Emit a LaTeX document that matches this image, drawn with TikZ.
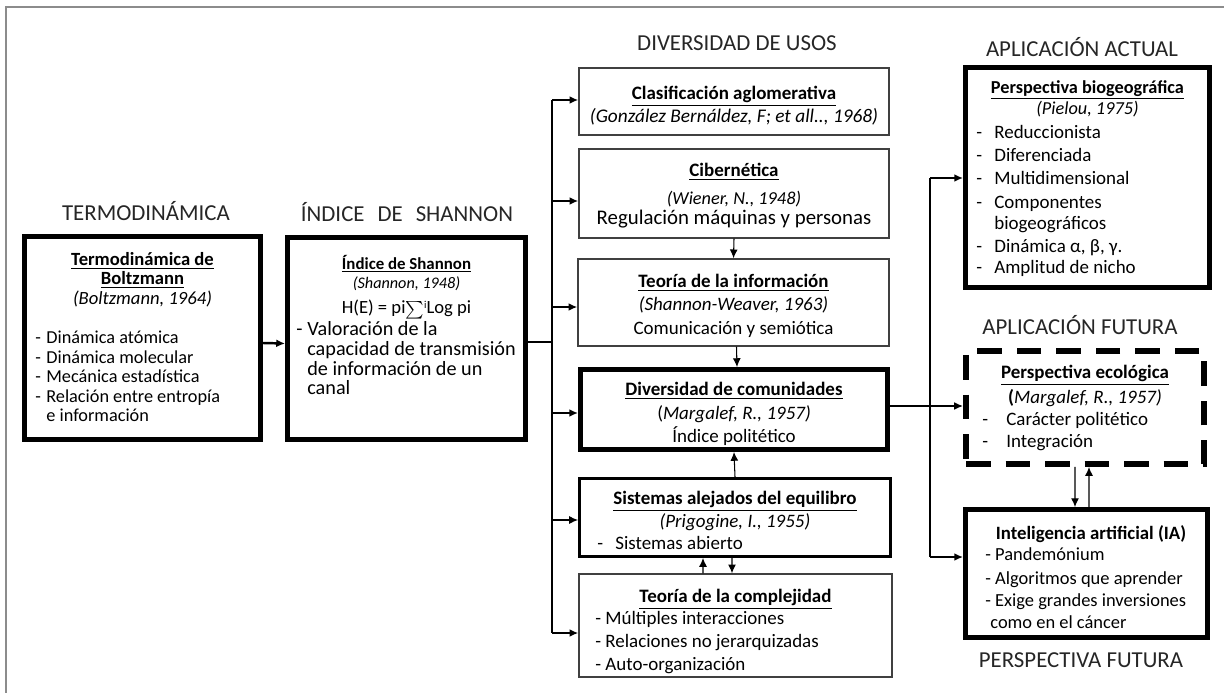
\documentclass[tikz,border=0pt]{standalone}
\usepackage{fontspec}
\setmainfont{Carlito}
\usetikzlibrary{arrows.meta}

\def\px{0.02cm}
\newcommand\guion[1][0.22cm]{\makebox[#1][l]{-}}
\newcommand\tit[1]{\underline{\textbf{#1}}}
\newcommand\tam[1]{\fontsize{#1}{11.1}\selectfont}

\begin{document}
\lineskiplimit=-20pt
\begin{tikzpicture}[x=0.02cm, y=-0.02cm, line join=miter, >={Latex[length=5pt,width=4.5pt]},
		tam/.style 2 args={minimum width=#1*\px, minimum height=#2*\px},
		caja/.style={draw=black!75, line width=0.8pt, inner sep=0pt},
		caja gruesa/.style={draw=black, line width=2.8pt, inner sep=0pt},
		caja media/.style={draw=black, line width=1.7pt, inner sep=0pt},
		caja rayada/.style={draw=black, line width=3.4pt, dash pattern=on 14pt off 8.5pt, inner sep=0pt},
		cabecera/.style={font=\fontsize{13}{15}\selectfont, text=black!85, inner sep=0pt},
		texto/.style={font=\tam{10.8}, inner sep=0pt},
		flecha/.style={->, line width=1.4pt},
		flecha fina/.style={->, line width=0.6pt}]
	\useasboundingbox (0,0) rectangle (1224,693);
	\draw[black!45, line width=1pt] (6,693) -- (6,7) -- (1224,7);
	% cabeceras
	\node[cabecera] (h1) at (146,211) {TERMODINÁMICA};
	\node[cabecera] (h2) at (407,212) {ÍNDICE\hspace{0.26cm}DE\hspace{0.26cm}SHANNON};
	\node[cabecera] (h3) at (737,43) {DIVERSIDAD DE USOS};
	\node[cabecera] (h4) at (1082,47) {APLICACIÓN ACTUAL};
	\node[cabecera] (h5) at (1080,325) {APLICACIÓN FUTURA};
	\node[cabecera] (h6) at (1081,660) {PERSPECTIVA FUTURA};
	% cajas
	\node[caja gruesa, tam={236}{203}] (termo) at (142.5,338) {};
	\node[caja gruesa, tam={238}{202}] (shannon) at (406.5,338.5) {};
	\node[caja, tam={310}{67}] (clasif) at (734,101.5) {};
	\node[caja, tam={310}{89}] (ciber) at (734,193.5) {};
	\node[caja, tam={311}{87}] (teoinfo) at (733.5,302.5) {};
	\node[caja gruesa, tam={307}{80}] (divcom) at (734,409.5) {};
	\node[caja media, tam={311}{78}] (sistemas) at (735,517.5) {};
	\node[caja, tam={313}{103}] (complej) at (735.5,625.5) {};
	\node[caja gruesa, tam={244}{220}] (biogeo) at (1087.5,177.5) {};
	\node[caja rayada, tam={238}{113}] (ecolog) at (1085,407.5) {};
	\node[caja gruesa, tam={242}{128}] (ia) at (1086.5,573.5) {};
	% textos
	\node[texto, font=\tam{10.6}, anchor=north, align=center] (t1) at (142.5,252) {\tit{Termodinámica de}\\\tit{Boltzmann}\\\textit{(Boltzmann, 1964)}};
	\node[texto, font=\tam{10.4}, anchor=north west, align=left] (l1) at (35,331) {\guion Dinámica atómica\\\guion Dinámica molecular\\\guion Mecánica estadística\\\guion Relación entre entropía\\\hspace*{0.22cm}e información};
	\node[texto, anchor=north, align=center] (t2) at (406.5,254.5) {\tam{9.6}\tit{Índice de Shannon}\\\tam{9.2}\textit{(Shannon,\ 1948)}};
	\node[texto, font=\tam{10.6}, anchor=north] (f2) at (406.5,300) {H(E) = pi\raisebox{0.6pt}{\tam{7.5}$\sum$}\raisebox{3pt}{\tam{6}i}Log pi};
	\node[texto, font=\tam{11.5}, anchor=north west, align=left] (l2) at (296,321.5) {\guion Valoración de la\\[0.1pt]\hspace*{0.22cm}capacidad de transmisión\\[0.1pt]\hspace*{0.22cm}de información de un\\[0.1pt]\hspace*{0.22cm}canal};
	\node[texto, anchor=north, align=center] (t3) at (734,86) {\tit{Clasificación aglomerativa}\\[1.9pt]\tam{11}\textit{(González Bernáldez, F; et all.., 1968)}};
	\node[texto, anchor=north, align=center] (t4) at (734,163) {\tit{Cibernética}\\[4.8pt]\tam{10.4}\textit{(Wiener, N., 1948)}\\[0.2pt]\tam{11.85}Regulación máquinas y personas};
	\node[texto, anchor=north, align=center] (t5) at (733.5,274) {\tit{Teoría de la información}\\[1.9pt]\textit{(Shannon-Weaver, 1963)}\\[2.5pt]Comunicación y semiótica};
	\node[texto, anchor=north, align=center] (t6) at (734,382) {\tit{Diversidad de comunidades}\\[2.5pt](\textit{Margalef, R., 1957)}\\[1.9pt]Índice politético};
	\node[texto, anchor=north, align=center] (t7) at (735,491) {\tit{Sistemas alejados del equilibro}\\[1.9pt]\textit{(Prigogine, I., 1955)}};
	\node[texto, anchor=north west, align=left] (l7) at (597,536) {\guion[0.36cm]Sistemas abierto};
	\node[texto, anchor=north, align=center] (t8) at (735.5,589) {\tit{Teoría de la complejidad}};
	\node[texto, anchor=north west, align=left] (l8) at (595,611) {- Múltiples interacciones\\[1.9pt]- Relaciones no jerarquizadas\\[1.9pt]- Auto-organización};
	\node[texto, font=\tam{10.4}, anchor=north, align=center] (t9) at (1087.5,80) {\tit{Perspectiva biogeográfica}\\[0.8pt]\textit{(Pielou, 1975)}};
	\node[texto, anchor=north west, align=left] (l9) at (976,125) {\guion[0.36cm]Reduccionista\\[1.9pt]\guion[0.36cm]Diferenciada\\[1.9pt]\guion[0.36cm]Multidimensional\\[2.5pt]\guion[0.36cm]Componentes\\[0.8pt]\hspace*{0.36cm}biogeográficos\\[2.5pt]\guion[0.36cm]Dinámica α, β, γ.\\[0.8pt]\guion[0.36cm]Amplitud de nicho};
	\node[texto, anchor=north, align=center] (t10) at (1085,365) {\tit{Perspectiva ecológica}\\[3pt]\textbf{(}\textit{Margalef, R., 1957)}};
	\node[texto, anchor=north west, align=left] (l10) at (982,412) {\guion[0.48cm]Carácter politético\\[1.4pt]\guion[0.48cm]Integración};
	\node[texto, font=\tam{10.7}, anchor=north, align=center] (t11) at (1091,525) {\textbf{Inteligencia artificial (IA)}};
	\node[texto, font=\tam{10.5}, anchor=north west, align=left] (l11) at (985,547) {- Pandemónium\\[2.5pt]- Algoritmos que aprender\\[1.9pt]- Exige grandes inversiones\\[1.4pt]\hspace*{0.1cm}como en el cáncer};
	% conectores
	\draw[flecha] ([yshift=-0.1cm]termo.east) -- ([yshift=-0.1cm]shannon.west);
	\coordinate (bus) at (552,342);
	\coordinate (b1) at (552,100);
	\coordinate (b2) at (552,201);
	\coordinate (b3) at (552,307);
	\coordinate (b4) at (552,413);
	\coordinate (b5) at (552,520);
	\coordinate (b6) at (552,633);
	\draw[line width=0.8pt] (shannon.east |- bus) -- (bus);
	\draw[line width=1.4pt] (b1) -- (b6);
	\draw[flecha] (b1) -- (b1 -| clasif.west);
	\draw[flecha] (b2) -- (b2 -| ciber.west);
	\draw[flecha] (b3) -- (b3 -| teoinfo.west);
	\draw[flecha] (b4) -- (b4 -| divcom.west);
	\draw[flecha fina] (b5) -- (b5 -| sistemas.west);
	\draw[flecha] (b6) -- (b6 -| complej.west);
	\draw[flecha fina] (ciber.south) -- (teoinfo.north);
	\draw[flecha fina] ([xshift=0.06cm]teoinfo.south) -- ([xshift=0.06cm]divcom.north);
	\draw[flecha fina] (sistemas.north) -- (divcom.south);
	\draw[flecha fina] ([xshift=-0.65cm]complej.north) -- ([xshift=-0.64cm]sistemas.south);
	\draw[flecha fina] ([xshift=-0.06cm]sistemas.south) -- ([xshift=-0.07cm]complej.north);
	\coordinate (r) at (930,406);
	\coordinate (r1) at (930,178);
	\coordinate (r2) at (930,557);
	\draw[flecha, line width=0.9pt] (divcom.east |- r) -- (ecolog.west |- r);
	\draw[line width=1.4pt] (r1) -- (r2);
	\draw[flecha] (r1) -- (r1 -| biogeo.west);
	\draw[flecha] (r2) -- (r2 -| ia.west);
	\draw[flecha fina] ([xshift=-0.2cm]ecolog.south) -- ([xshift=-0.23cm]ia.north);
	\draw[flecha fina] ([xshift=0.05cm]ia.north) -- ([xshift=0.08cm]ecolog.south);
\end{tikzpicture}
\end{document}
